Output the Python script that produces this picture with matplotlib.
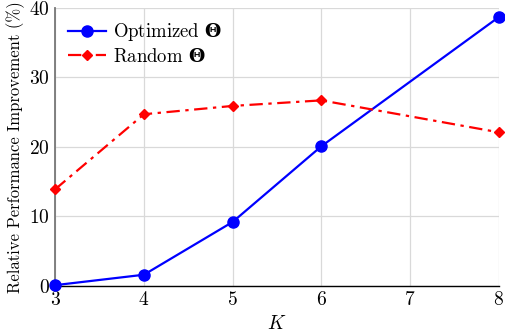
import matplotlib.pyplot as plt

plt.rcParams['font.family'] = 'cmr10'
plt.rcParams['mathtext.fontset'] = 'custom'
plt.rcParams['mathtext.rm'] = 'cmr10'
plt.rcParams['mathtext.it'] = 'cmmi10'
plt.rcParams['mathtext.bf'] = 'DejaVu Serif:bold'
plt.rcParams['axes.formatter.use_mathtext'] = True

K = [3, 4, 5, 6, 8]
optimized = [0.1, 1.6, 9.2, 20.1, 38.7]
random_theta = [13.9, 24.7, 25.9, 26.7, 22.1]

fig = plt.figure(figsize=(5.06, 3.32), dpi=100)
ax = fig.add_axes([0.109, 0.139, 0.877, 0.837])

ax.plot(K, optimized, color='blue', marker='o', markersize=8, lw=1.6,
        label=r'Optimized $\mathbf{\Theta}$', clip_on=False, zorder=3)
ax.plot(K, random_theta, color='red', marker='D', markersize=5, lw=1.6,
        linestyle=(0, (6, 2.5, 1.5, 2.5)), label=r'Random $\mathbf{\Theta}$',
        clip_on=False, zorder=3)

ax.set_xlim(3, 8)
ax.set_ylim(0, 40)
ax.set_xticks([3, 4, 5, 6, 7, 8])
ax.set_yticks([0, 10, 20, 30, 40])
ax.grid(True, color='#d9d9d9', lw=0.9)
ax.set_axisbelow(True)

for s in ['top', 'right']:
    ax.spines[s].set_visible(False)
ax.spines['left'].set_color('#777777')
ax.spines['left'].set_linewidth(1.3)
ax.spines['bottom'].set_color('black')
ax.spines['bottom'].set_linewidth(1.0)
ax.tick_params(length=0, labelsize=14, pad=4)

ax.set_xlabel('$K$', fontsize=14)
ax.set_ylabel('Relative Performance Improvement (%)', fontsize=12, labelpad=3)

ax.legend(loc='upper left', frameon=False, fontsize=13.5, handlelength=2.0,
          borderaxespad=0.3, labelspacing=0.25, handletextpad=0.4)

plt.savefig('out.png', dpi=100)
